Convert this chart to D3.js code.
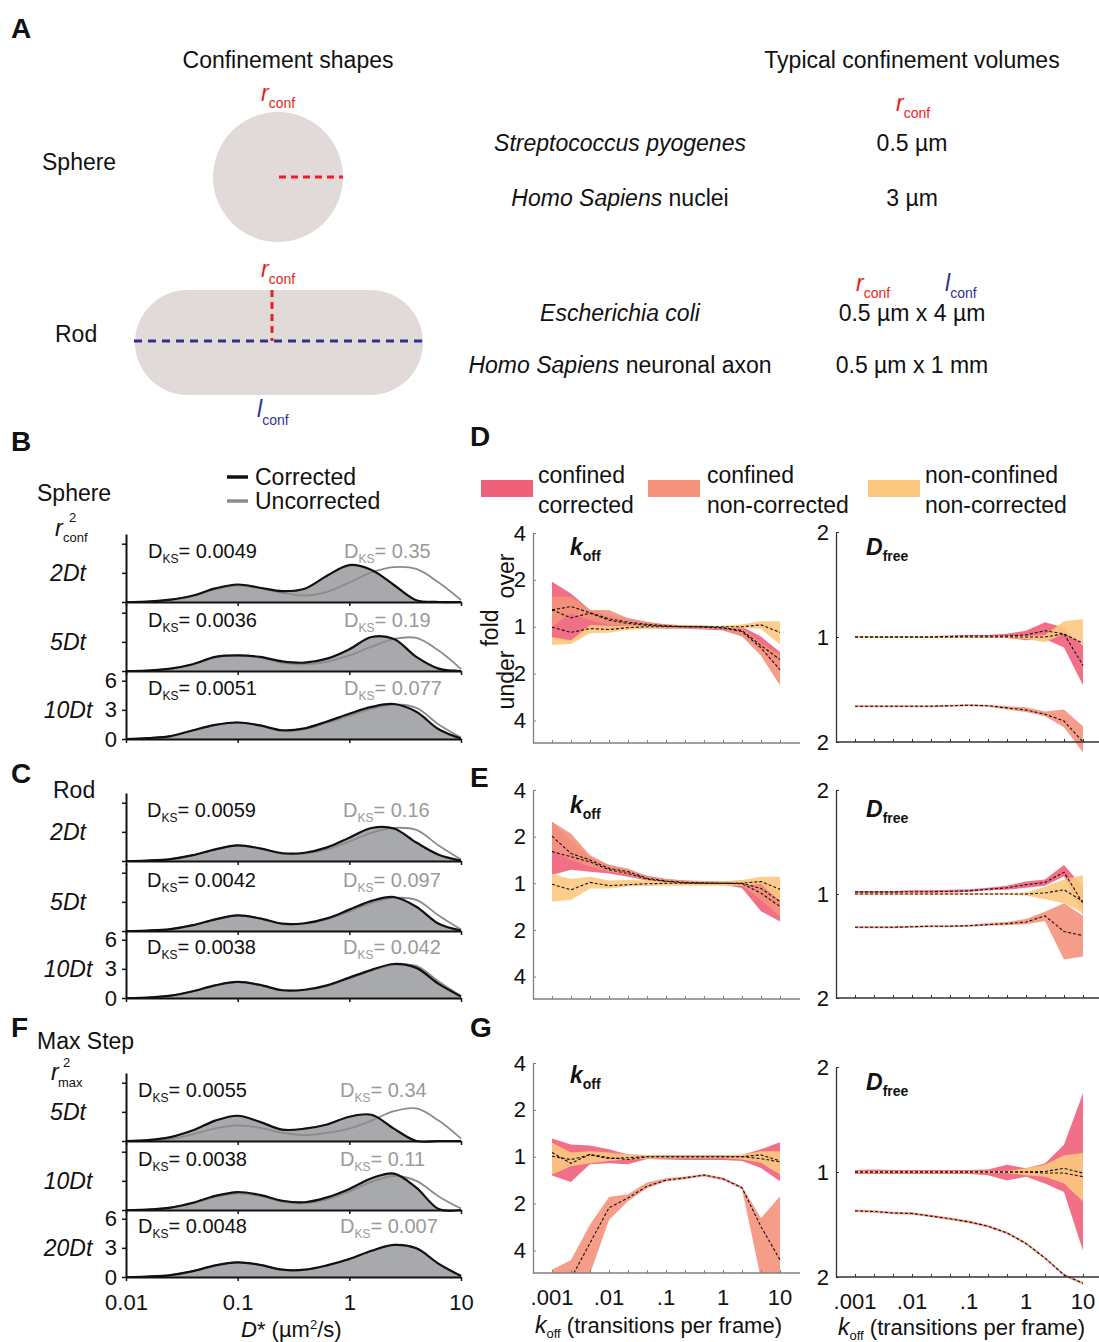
<!DOCTYPE html>
<html>
<head>
<meta charset="utf-8">
<script src="https://cdn.jsdelivr.net/npm/d3@7"></script>
<style>
  body { margin: 0; background: #fff; }
  svg { font-family: "Liberation Sans", Arial, Helvetica, sans-serif; }
</style>
</head>
<body>
<div id="fig"></div>
<script>
// ---------- data: D* distributions (B, C, F) ----------
// D* sample points (um^2/s), 0.2 decade apart
const dGrid = [0.01, 0.0158, 0.0251, 0.0398, 0.0631, 0.1, 0.158, 0.251, 0.398, 0.631, 1, 1.58, 2.51, 3.98, 6.31, 10];

const sphereRows = ["2Dt", "5Dt", "10Dt"];
const sphereCorrected = [
  [0, 0.05, 0.25, 0.67, 1.4, 1.8, 1.47, 1.12, 1.37, 2.7, 3.8, 3.3, 1.75, 0.18, 0, 0],
  [0, 0.05, 0.25, 0.7, 1.45, 1.6, 1.45, 1.0, 0.86, 1.27, 2.24, 3.5, 3.3, 1.45, 0.24, 0],
  [0, 0.1, 0.3, 0.9, 1.45, 1.7, 1.4, 0.9, 1.1, 1.8, 2.6, 3.3, 3.6, 2.8, 1.0, 0.05]
];
const sphereUncorrected = [
  [0, 0.05, 0.22, 0.6, 1.3, 1.7, 1.4, 0.95, 0.67, 1.05, 2.0, 3.05, 3.6, 3.4, 2.0, 0.2],
  [0, 0.05, 0.25, 0.7, 1.4, 1.6, 1.4, 0.85, 0.7, 0.95, 1.6, 2.5, 3.3, 3.4, 2.1, 0.2],
  [0, 0.1, 0.3, 0.9, 1.45, 1.7, 1.4, 0.85, 1.0, 1.65, 2.4, 3.1, 3.55, 3.2, 1.5, 0.15]
];
const sphereDks = [["0.0049", "0.35"], ["0.0036", "0.19"], ["0.0051", "0.077"]];

const rodRows = ["2Dt", "5Dt", "10Dt"];
const rodCorrected = [
  [0, 0.05, 0.2, 0.6, 1.2, 1.6, 1.3, 0.8, 0.85, 1.4, 2.4, 3.4, 3.35, 1.9, 0.65, 0.05],
  [0, 0.05, 0.2, 0.6, 1.2, 1.6, 1.3, 0.75, 0.8, 1.3, 2.2, 3.1, 3.5, 2.5, 0.75, 0.05],
  [0, 0.05, 0.25, 0.7, 1.3, 1.65, 1.35, 0.8, 0.85, 1.3, 2.1, 2.9, 3.5, 3.1, 1.45, 0.15]
];
const rodUncorrected = [
  [0, 0.05, 0.2, 0.6, 1.2, 1.6, 1.3, 0.75, 0.75, 1.2, 2.0, 2.9, 3.4, 3.2, 1.6, 0.15],
  [0, 0.05, 0.2, 0.6, 1.2, 1.6, 1.3, 0.72, 0.75, 1.2, 2.0, 2.9, 3.4, 3.2, 1.6, 0.15],
  [0, 0.05, 0.25, 0.7, 1.3, 1.65, 1.35, 0.8, 0.82, 1.25, 2.0, 2.8, 3.4, 3.3, 1.7, 0.2]
];
const rodDks = [["0.0059", "0.16"], ["0.0042", "0.097"], ["0.0038", "0.042"]];

const maxStepRows = ["5Dt", "10Dt", "20Dt"];
const maxStepCorrected = [
  [0, 0.1, 0.4, 1.1, 2.1, 2.6, 1.97, 1.17, 1.27, 1.7, 2.5, 2.7, 1.27, 0, 0, 0],
  [0, 0.05, 0.25, 0.75, 1.45, 1.85, 1.55, 0.95, 0.8, 1.3, 2.17, 3.27, 3.75, 2.3, 0.1, 0],
  [0, 0.05, 0.2, 0.6, 1.2, 1.5, 1.25, 0.75, 0.75, 1.2, 1.85, 2.7, 3.3, 2.95, 1.35, 0.1]
];
const maxStepUncorrected = [
  [0, 0.05, 0.2, 0.7, 1.3, 1.6, 1.35, 0.85, 0.6, 0.83, 1.27, 2.1, 3.07, 3.35, 2.1, 0.24],
  [0, 0.05, 0.25, 0.7, 1.35, 1.7, 1.45, 0.85, 0.7, 1.1, 1.9, 2.9, 3.5, 3.0, 1.4, 0.15],
  [0, 0.05, 0.2, 0.6, 1.2, 1.5, 1.25, 0.75, 0.74, 1.18, 1.83, 2.68, 3.28, 2.97, 1.38, 0.12]
];
const maxStepDks = [["0.0055", "0.34"], ["0.0038", "0.11"], ["0.0048", "0.007"]];

const densityTicks = [0.01, 0.1, 1, 10];

// ---------- data: fold error (D, E, G), log2 units, rows = [upper, mean, lower] ----------
const koffValues = [0.001, 0.00215, 0.00464, 0.01, 0.0215, 0.0464, 0.1, 0.215, 0.464, 1, 2.15, 4.64, 10];
const koffTickLabels = [".001", ".01", ".1", "1", "10"];

const dKoffCC = [
  [0.96, 0.71, 0.36, 0.25, 0.18, 0.1, 0.05, 0.03, 0.02, 0.01, 0, -0.21, -0.54],
  [0.36, 0.19, 0.29, 0.14, 0.07, 0.03, 0.01, 0, 0, -0.02, -0.08, -0.4, -0.7],
  [-0.25, -0.32, -0.05, -0.07, -0.02, -0.03, -0.04, -0.04, -0.06, -0.08, -0.2, -0.5, -0.93]
];
const dKoffCN = [
  [0.64, 0.64, 0.36, 0.36, 0.18, 0.1, 0.05, 0.03, 0.02, 0, -0.02, -0.35, -0.6],
  [0.36, 0.43, 0.3, 0.17, 0.1, 0.05, 0.02, 0, -0.01, -0.03, -0.1, -0.45, -0.92],
  [0, 0.29, 0.14, 0.05, 0.02, 0, -0.01, -0.02, -0.04, -0.06, -0.2, -0.62, -1.25]
];
const dKoffNN = [
  [-0.22, -0.29, 0.04, 0.02, 0.02, 0.02, 0.02, 0.02, 0.02, 0.02, 0.05, 0.12, 0.12],
  [-0.01, -0.12, -0.04, -0.06, -0.02, 0, 0, 0, 0, 0, 0, 0.04, -0.12],
  [-0.39, -0.37, -0.14, -0.13, -0.07, -0.04, -0.03, -0.03, -0.03, -0.03, -0.02, -0.05, -0.38]
];
const dDfreeCC = [
  [0.01, 0.01, 0.01, 0.01, 0.01, 0.015, 0.02, 0.02, 0.03, 0.06, 0.14, 0.09, -0.08],
  [0, 0, 0, 0, 0, 0.005, 0.01, 0.01, 0.01, 0.02, 0.06, 0.03, -0.27],
  [-0.01, -0.01, -0.01, -0.01, -0.01, -0.005, -0.005, -0.01, -0.01, -0.03, -0.02, -0.1, -0.46]
];
const dDfreeCN = [
  [-0.65, -0.65, -0.65, -0.65, -0.65, -0.645, -0.64, -0.645, -0.66, -0.67, -0.71, -0.69, -0.85],
  [-0.66, -0.66, -0.66, -0.66, -0.66, -0.655, -0.65, -0.655, -0.675, -0.695, -0.735, -0.8, -1.0],
  [-0.67, -0.67, -0.67, -0.67, -0.67, -0.665, -0.66, -0.665, -0.69, -0.715, -0.755, -0.86, -1.1]
];
const dDfreeNN = [
  [0.01, 0.01, 0.01, 0.01, 0.01, 0.01, 0.01, 0.01, 0.01, 0.01, 0.02, 0.15, 0.17],
  [0, 0, 0, 0, 0, 0, 0, 0, 0, 0, 0, 0.03, -0.06],
  [-0.01, -0.01, -0.01, -0.01, -0.01, -0.01, -0.01, -0.01, -0.01, -0.02, -0.05, 0.03, -0.06]
];

const eKoffCC = [
  [1.32, 0.93, 0.57, 0.39, 0.29, 0.16, 0.09, 0.06, 0.05, 0.04, 0.06, 0.04, -0.18],
  [0.68, 0.57, 0.46, 0.29, 0.21, 0.09, 0.04, 0.01, 0, 0, -0.01, -0.21, -0.5],
  [0.18, 0.29, 0.25, 0.21, 0.14, 0.06, -0.01, -0.01, -0.02, -0.03, -0.1, -0.6, -0.82]
];
const eKoffCN = [
  [1.32, 1.07, 0.6, 0.39, 0.32, 0.15, 0.09, 0.06, 0.04, 0.03, 0.04, 0.01, -0.21],
  [1.01, 0.64, 0.5, 0.32, 0.25, 0.11, 0.05, 0.02, 0.01, 0, 0, -0.11, -0.39],
  [0.7, 0.5, 0.36, 0.25, 0.18, 0.06, 0, -0.01, -0.02, -0.03, -0.04, -0.36, -0.71]
];
const eKoffNN = [
  [0.2, 0.09, 0.14, 0.06, 0.07, 0.06, 0.04, 0.04, 0.04, 0.04, 0.07, 0.14, 0.14],
  [-0.02, -0.14, 0.02, -0.05, -0.03, -0.01, 0, 0, 0, 0, 0, 0.04, -0.13],
  [-0.39, -0.36, -0.11, -0.11, -0.07, -0.06, -0.05, -0.05, -0.05, -0.05, -0.05, -0.01, -0.39]
];
const eDfreeCC = [
  [0.03, 0.03, 0.03, 0.035, 0.035, 0.04, 0.045, 0.06, 0.08, 0.12, 0.14, 0.28, 0.07],
  [0.02, 0.02, 0.02, 0.022, 0.022, 0.025, 0.03, 0.045, 0.06, 0.09, 0.11, 0.21, -0.09],
  [0.01, 0.01, 0.01, 0.012, 0.012, 0.015, 0.02, 0.035, 0.04, 0.06, 0.08, 0.17, -0.2]
];
const eDfreeCN = [
  [-0.31, -0.31, -0.31, -0.305, -0.3, -0.3, -0.295, -0.28, -0.27, -0.24, -0.17, -0.09, -0.21],
  [-0.32, -0.32, -0.32, -0.315, -0.31, -0.31, -0.305, -0.295, -0.285, -0.27, -0.21, -0.36, -0.4],
  [-0.33, -0.33, -0.33, -0.325, -0.32, -0.32, -0.315, -0.305, -0.3, -0.29, -0.26, -0.63, -0.6]
];
const eDfreeNN = [
  [0.01, 0.01, 0.01, 0.01, 0.01, 0.01, 0.01, 0.01, 0.01, 0.015, 0.07, 0.14, 0.18],
  [0, 0, 0, 0, 0, 0, 0, 0, 0, 0, 0.01, 0.04, -0.07],
  [-0.01, -0.01, -0.01, -0.01, -0.01, -0.01, -0.01, -0.01, -0.01, -0.015, -0.05, -0.09, -0.18]
];

const gKoffCC = [
  [0.39, 0.26, 0.24, 0.16, 0.05, 0.04, 0.04, 0.04, 0.04, 0.04, 0.04, 0.16, 0.31],
  [0.09, -0.14, 0.05, -0.02, -0.06, 0, 0, 0, 0, 0, 0, -0.04, -0.11],
  [-0.4, -0.54, -0.16, -0.14, -0.16, -0.05, -0.06, -0.07, -0.07, -0.07, -0.09, -0.24, -0.52]
];
const gKoffCN = [
  [-2.41, -2.2, -1.45, -0.86, -0.8, -0.55, -0.46, -0.42, -0.37, -0.44, -0.63, -1.31, -0.84],
  [-3.2, -2.6, -1.84, -1.09, -0.88, -0.63, -0.5, -0.45, -0.39, -0.47, -0.66, -1.49, -2.2],
  [-3.3, -3.0, -2.5, -1.35, -0.95, -0.67, -0.53, -0.48, -0.42, -0.5, -0.69, -2.6, -3.0]
];
const gKoffNN = [
  [0.3, 0.09, 0.12, 0.09, 0.05, 0.04, 0.03, 0.03, 0.03, 0.03, 0.05, 0.12, 0.12],
  [0.01, -0.06, 0.04, -0.04, -0.02, 0, 0, 0, 0, 0, 0, 0.04, -0.09],
  [-0.38, -0.2, -0.14, -0.09, -0.06, -0.04, -0.03, -0.03, -0.03, -0.03, -0.06, -0.13, -0.38]
];
const gDfreeCC = [
  [0.02, 0.025, 0.02, 0.02, 0.02, 0.02, 0.02, 0.025, 0.07, 0.035, 0.08, 0.26, 0.75],
  [0, 0, 0, 0, 0, 0, 0, 0, 0, 0, 0.005, 0.035, -0.01],
  [-0.02, -0.02, -0.02, -0.02, -0.02, -0.02, -0.02, -0.03, -0.08, -0.045, -0.11, -0.19, -0.75]
];
const gDfreeCN = [
  [-0.358, -0.364, -0.378, -0.383, -0.408, -0.434, -0.463, -0.504, -0.568, -0.668, -0.808, -0.968, -1.048],
  [-0.37, -0.376, -0.39, -0.395, -0.42, -0.446, -0.475, -0.516, -0.58, -0.68, -0.82, -0.98, -1.06],
  [-0.382, -0.388, -0.402, -0.407, -0.432, -0.458, -0.487, -0.528, -0.592, -0.692, -0.832, -0.992, -1.072]
];
const gDfreeNN = [
  [0.01, 0.01, 0.01, 0.01, 0.01, 0.01, 0.01, 0.01, 0.01, 0.035, 0.07, 0.16, 0.18],
  [0, 0, 0, 0, 0, 0, 0, 0, 0, 0, -0.01, -0.01, -0.045],
  [-0.01, -0.01, -0.01, -0.01, -0.01, -0.01, -0.01, -0.01, -0.01, -0.03, -0.045, -0.11, -0.28]
];

const seriesNames = [["confined", "corrected"], ["confined", "non-corrected"], ["non-confined", "non-corrected"]];
const seriesColors = ["#ef607a", "#f4927c", "#fcc880"];

// ---------- drawing ----------
const svg = d3.select("#fig").append("svg").attr("width", 1099).attr("height", 1342);
const RED = "#ed1c24", BLUE = "#2e3192", SHAPE = "#e2d9d9";

// text with sub/superscript parts
function rich(x, y, parts, anchor) {
  const t = svg.append("text").attr("x", x).attr("y", y).attr("text-anchor", anchor || "start");
  parts.forEach(p => {
    t.append("tspan").text(p.t)
      .attr("dy", p.dy || 0)
      .style("font-size", (p.s || 22) + "px")
      .style("font-style", p.i ? "italic" : null)
      .style("font-weight", p.b ? "bold" : null)
      .attr("fill", p.f || "#111");
  });
  return t;
}
function letter(x, y, s) {
  rich(x, y, [{ t: s, s: 28, b: true }]);
}

// ----- Panel A -----
letter(11, 38, "A");
rich(288, 68, [{ t: "Confinement shapes", s: 23 }], "middle");
rich(912, 68, [{ t: "Typical confinement volumes", s: 23 }], "middle");

svg.append("circle").attr("cx", 278).attr("cy", 177).attr("r", 65).attr("fill", SHAPE);
svg.append("line").attr("x1", 279).attr("x2", 343).attr("y1", 177).attr("y2", 177)
  .attr("stroke", RED).attr("stroke-width", 3).attr("stroke-dasharray", "7,5");
rich(261, 101, [{ t: "r", s: 23, i: true, f: RED }, { t: "conf", s: 14, dy: 7, f: RED }]);
rich(42, 170, [{ t: "Sphere", s: 23 }]);

svg.append("rect").attr("x", 135).attr("y", 290).attr("width", 288).attr("height", 105)
  .attr("rx", 52.5).attr("fill", SHAPE);
svg.append("line").attr("x1", 134).attr("x2", 423).attr("y1", 341).attr("y2", 341)
  .attr("stroke", BLUE).attr("stroke-width", 3).attr("stroke-dasharray", "8,6");
svg.append("line").attr("x1", 272).attr("x2", 272).attr("y1", 290).attr("y2", 341)
  .attr("stroke", RED).attr("stroke-width", 3).attr("stroke-dasharray", "7,5");
rich(261, 277, [{ t: "r", s: 23, i: true, f: RED }, { t: "conf", s: 14, dy: 7, f: RED }]);
rich(257, 417, [{ t: "l", s: 23, i: true, f: BLUE }, { t: "conf", s: 14, dy: 8, f: BLUE }]);
rich(55, 342, [{ t: "Rod", s: 23 }]);

rich(896, 111, [{ t: "r", s: 23, i: true, f: RED }, { t: "conf", s: 14, dy: 7, f: RED }]);
rich(620, 151, [{ t: "Streptococcus pyogenes", s: 23, i: true }], "middle");
rich(912, 151, [{ t: "0.5 µm", s: 23 }], "middle");
rich(620, 206, [{ t: "Homo Sapiens", s: 23, i: true }, { t: " nuclei", s: 23 }], "middle");
rich(912, 206, [{ t: "3 µm", s: 23 }], "middle");
rich(856, 291, [{ t: "r", s: 23, i: true, f: RED }, { t: "conf", s: 14, dy: 7, f: RED }]);
rich(945, 291, [{ t: "l", s: 23, i: true, f: BLUE }, { t: "conf", s: 14, dy: 7, f: BLUE }]);
rich(620, 321, [{ t: "Escherichia coli", s: 23, i: true }], "middle");
rich(912, 321, [{ t: "0.5 µm x 4 µm", s: 23 }], "middle");
rich(620, 373, [{ t: "Homo Sapiens", s: 23, i: true }, { t: " neuronal axon", s: 23 }], "middle");
rich(912, 373, [{ t: "0.5 µm x 1 mm", s: 23 }], "middle");

// ----- density panels B, C, F -----
const xD = d3.scaleLog().domain([0.01, 10]).range([126, 461]);
const smooth = d3.curveCatmullRom.alpha(0.5);

function densityPanel(o) {
  const g = svg.append("g");
  o.baselines.forEach((b, r) => {
    const y = d3.scaleLinear().domain([0, 7]).range([b, b - 68]);
    const area = d3.area().x((d, i) => xD(dGrid[i])).y0(y(0)).y1(d => y(d)).curve(smooth);
    const line = d3.line().x((d, i) => xD(dGrid[i])).y(d => y(d)).curve(smooth);
    g.append("path").attr("d", area(o.corr[r])).attr("fill", "#a7a9ac");
    g.append("path").attr("d", line(o.unc[r])).attr("fill", "none")
      .attr("stroke", "#8c8c8c").attr("stroke-width", 1.8);
    g.append("path").attr("d", line(o.corr[r])).attr("fill", "none")
      .attr("stroke", "#111").attr("stroke-width", 2.2);

    const last = r === o.baselines.length - 1;
    const ya = g.append("g").attr("transform", "translate(126,0)")
      .call(d3.axisLeft(y).tickValues([0, 3, 6]).tickSize(4).tickSizeOuter(0).tickPadding(5)
        .tickFormat(last ? d3.format("d") : () => ""));
    const xa = g.append("g").attr("transform", `translate(0,${b})`)
      .call(d3.axisBottom(xD).tickValues(densityTicks).tickSize(4).tickSizeOuter(0)
        .tickFormat(o.xLabels && last ? (d => String(d)) : () => ""));
    [ya, xa].forEach(a => {
      a.select(".domain").attr("stroke", "#111").attr("stroke-width", 2);
      a.selectAll(".tick line").attr("stroke", "#111").attr("stroke-width", 1.5);
      a.selectAll(".tick text").attr("fill", "#111").style("font-size", "22px")
        .style("font-family", '"Liberation Sans", Arial, sans-serif');
    });
    xa.selectAll(".tick text").attr("dy", "1.2em");

    rich(o.dksX, b - 44, [{ t: "D", s: 20 }, { t: "KS", s: 12, dy: 5 }, { t: "= " + o.dks[r][0], s: 20, dy: -5 }]);
    rich(o.dksGrayX, b - 44, [{ t: "D", s: 20, f: "#9a9a9a" }, { t: "KS", s: 12, dy: 5, f: "#9a9a9a" },
      { t: "= " + o.dks[r][1], s: 20, dy: -5, f: "#9a9a9a" }]);
    rich(68, b - 21, [{ t: o.rows[r], s: 23, i: true }], "middle");
  });
}

letter(11, 451, "B");
svg.append("line").attr("x1", 227).attr("x2", 248).attr("y1", 477).attr("y2", 477)
  .attr("stroke", "#111").attr("stroke-width", 3.5);
rich(255, 485, [{ t: "Corrected", s: 23 }]);
svg.append("line").attr("x1", 227).attr("x2", 248).attr("y1", 501).attr("y2", 501)
  .attr("stroke", "#8c8c8c").attr("stroke-width", 3.5);
rich(255, 509, [{ t: "Uncorrected", s: 23 }]);
rich(37, 501, [{ t: "Sphere", s: 23 }]);
rich(55, 536, [{ t: "r", s: 23, i: true }]);
rich(69, 522, [{ t: "2", s: 13 }]);
rich(63, 542, [{ t: "conf", s: 13 }]);
densityPanel({ baselines: [602, 671, 739], corr: sphereCorrected, unc: sphereUncorrected,
  dks: sphereDks, rows: sphereRows, dksX: 148, dksGrayX: 344 });

letter(11, 783, "C");
rich(53, 798, [{ t: "Rod", s: 23 }]);
densityPanel({ baselines: [861, 931, 998], corr: rodCorrected, unc: rodUncorrected,
  dks: rodDks, rows: rodRows, dksX: 147, dksGrayX: 343 });

letter(11, 1037, "F");
rich(37, 1049, [{ t: "Max Step", s: 23 }]);
rich(51, 1080, [{ t: "r", s: 23, i: true }]);
rich(63, 1067, [{ t: "2", s: 13 }]);
rich(58, 1087, [{ t: "max", s: 13 }]);
densityPanel({ baselines: [1141, 1210, 1277], corr: maxStepCorrected, unc: maxStepUncorrected,
  dks: maxStepDks, rows: maxStepRows, dksX: 138, dksGrayX: 340, xLabels: true });
rich(241, 1337, [{ t: "D", s: 22, i: true }, { t: "* (µm", s: 22 }, { t: "2", s: 13, dy: -8 },
  { t: "/s)", s: 22, dy: 8 }]);

// ----- fold-error panels D, E, G -----
let clipId = 0;
function foldPanel(o) {
  const g = svg.append("g");
  const koff = o.kind === "koff";
  const axisCol = koff ? "#808080" : "#333";
  const x = d3.scaleLog().domain([0.001, 10]).range([o.x0 + 19, o.x0 + 247]);
  const y = d3.scaleLinear().domain(koff ? [-2.48, 2] : [-1, 1]).range([o.bottom, o.top]);
  const right = o.x0 + (koff ? 267 : 263);

  const id = "clip" + (clipId++);
  svg.append("clipPath").attr("id", id).append("rect")
    .attr("x", o.x0).attr("y", o.top - 20).attr("width", right - o.x0)
    .attr("height", o.bottom - o.top + (koff ? 20 : 30));
  const plot = g.append("g").attr("clip-path", `url(#${id})`);

  o.series.forEach((s, k) => {
    const area = d3.area().x((d, i) => x(koffValues[i])).y0((d, i) => y(s[2][i])).y1(d => y(d));
    plot.append("path").attr("d", area(s[0])).attr("fill", seriesColors[k]).attr("fill-opacity", 0.9);
  });
  o.series.forEach(s => {
    const line = d3.line().x((d, i) => x(koffValues[i])).y(d => y(d));
    plot.append("path").attr("d", line(s[1])).attr("fill", "none")
      .attr("stroke", "#111").attr("stroke-width", 1.1).attr("stroke-dasharray", "3,2");
  });

  // axes
  g.append("line").attr("x1", o.x0).attr("x2", right).attr("y1", o.bottom).attr("y2", o.bottom)
    .attr("stroke", axisCol).attr("stroke-width", 1.3);
  const xa = g.append("g").attr("transform", `translate(0,${o.bottom})`)
    .call(d3.axisBottom(x).tickValues(koffValues).tickSize(-3).tickSizeOuter(0).tickFormat(""));
  xa.select(".domain").remove();
  xa.selectAll(".tick line").attr("stroke", axisCol);

  const yTicks = koff ? [2, 1, 0, -1, -2] : [1, 0, -1];
  const ya = g.append("g").attr("transform", `translate(${o.x0},0)`)
    .call(d3.axisLeft(y).tickValues(yTicks).tickSize(-3).tickSizeOuter(0).tickPadding(7)
      .tickFormat(d => String(Math.pow(2, Math.abs(d)))));
  ya.select(".domain").attr("stroke", axisCol).attr("stroke-width", 1.3);
  ya.selectAll(".tick line").attr("stroke", axisCol);
  ya.selectAll(".tick text").attr("fill", "#111").style("font-size", "22px")
    .style("font-family", '"Liberation Sans", Arial, sans-serif');

  if (koff) {
    rich(o.x0 + 37, o.titleY, [{ t: "k", s: 23, i: true, b: true }, { t: "off", s: 14, b: true, dy: 6 }]);
  } else {
    rich(o.x0 + 30, o.titleY, [{ t: "D", s: 23, i: true, b: true }, { t: "free", s: 14, b: true, dy: 6 }]);
  }

  if (o.xLabels) {
    [0.001, 0.01, 0.1, 1, 10].forEach((v, i) => {
      rich(x(v), o.bottom + 32, [{ t: koffTickLabels[i], s: 22 }], "middle");
    });
    rich(o.x0 + 2, o.labelY, [{ t: "k", s: 23, i: true }, { t: "off", s: 13, dy: 5 },
      { t: " (transitions per frame)", s: 22, dy: -5 }]);
  }
}

letter(470, 446, "D");
[[481, 538], [648, 707], [868, 925]].forEach((p, k) => {
  svg.append("rect").attr("x", p[0]).attr("y", 480).attr("width", 52).attr("height", 17)
    .attr("fill", seriesColors[k]);
  rich(p[1], 483, [{ t: seriesNames[k][0], s: 23 }]);
  rich(p[1], 513, [{ t: seriesNames[k][1], s: 23 }]);
});
[["over", 506, 576], ["fold", 490, 628], ["under", 506, 680]].forEach(d => {
  svg.append("text").attr("transform", `translate(${d[1]},${d[2]}) rotate(-90)`)
    .attr("text-anchor", "middle").attr("dominant-baseline", "central")
    .style("font-size", "23px").attr("fill", "#111").text(d[0]);
});

foldPanel({ kind: "koff", x0: 533, top: 533, bottom: 743, titleY: 555, series: [dKoffCC, dKoffCN, dKoffNN] });
foldPanel({ kind: "dfree", x0: 836, top: 532, bottom: 742, titleY: 555, series: [dDfreeCC, dDfreeCN, dDfreeNN] });

letter(470, 787, "E");
foldPanel({ kind: "koff", x0: 533, top: 790, bottom: 999, titleY: 813, series: [eKoffCC, eKoffCN, eKoffNN] });
foldPanel({ kind: "dfree", x0: 836, top: 790, bottom: 998, titleY: 817, series: [eDfreeCC, eDfreeCN, eDfreeNN] });

letter(470, 1037, "G");
foldPanel({ kind: "koff", x0: 533, top: 1063, bottom: 1273, titleY: 1083, xLabels: true, labelY: 1333,
  series: [gKoffCC, gKoffCN, gKoffNN] });
foldPanel({ kind: "dfree", x0: 836, top: 1067, bottom: 1277, titleY: 1090, xLabels: true, labelY: 1335,
  series: [gDfreeCC, gDfreeCN, gDfreeNN] });
</script>
</body>
</html>
